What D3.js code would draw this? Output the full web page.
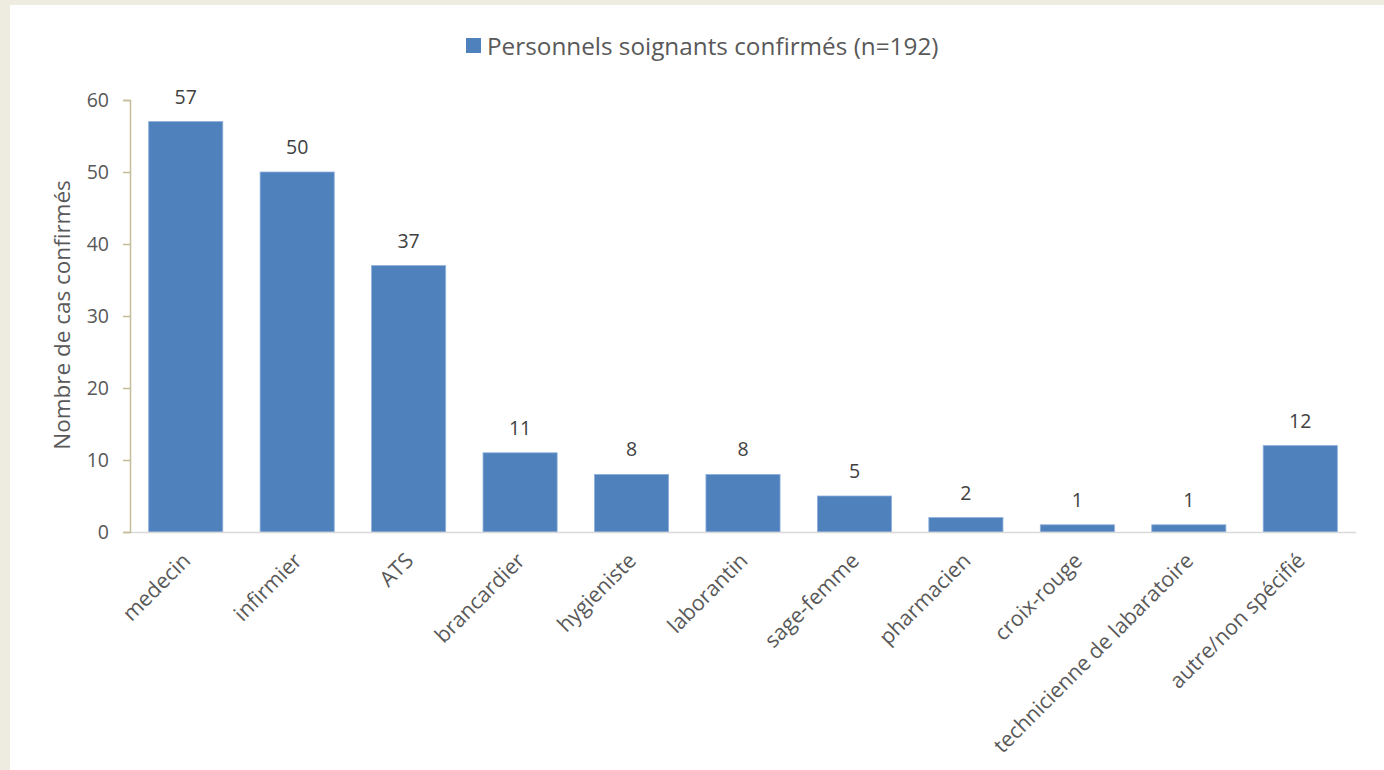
<!DOCTYPE html>
<html>
<head>
<meta charset="utf-8">
<script src="https://cdn.jsdelivr.net/npm/d3@7"></script>
<style>
  html, body { margin: 0; padding: 0; background: #eeebe0; }
  svg { display: block; }
  text { font-family: "Open Sans", sans-serif; }
</style>
</head>
<body>
<script>
var categories = ["medecin", "infirmier", "ATS", "brancardier", "hygieniste", "laborantin",
                  "sage-femme", "pharmacien", "croix-rouge", "technicienne de labaratoire",
                  "autre/non spécifié"];
var values = [57, 50, 37, 11, 8, 8, 5, 2, 1, 1, 12];
var yTicks = [0, 10, 20, 30, 40, 50, 60];
var seriesName = "Personnels soignants confirmés (n=192)";
var yTitle = "Nombre de cas confirmés";

var w = 1384,
    h = 770;

var plotLeft = 130, plotRight = 1356, plotTop = 100, plotBottom = 532;

var svg = d3.select("body")
  .append("svg")
  .attr("width", w)
  .attr("height", h);

// white chart area
svg.append("rect")
  .attr("x", 10)
  .attr("y", 5)
  .attr("width", w - 10)
  .attr("height", h - 5)
  .attr("fill", "#fff");

var xScale = d3.scaleBand()
  .domain(categories)
  .range([plotLeft, plotRight])
  .paddingInner(0.335)
  .paddingOuter(0.1675);

var yScale = d3.scaleLinear()
  .domain([0, 60])
  .range([plotBottom, plotTop]);

// bars
svg.selectAll("rect.bar")
  .data(values)
  .enter()
  .append("rect")
  .attr("class", "bar")
  .attr("x", function(d, i) { return xScale(categories[i]); })
  .attr("y", function(d) { return yScale(d); })
  .attr("width", xScale.bandwidth())
  .attr("height", function(d) { return plotBottom - yScale(d); })
  .attr("fill", "#4f81bd")
  .attr("stroke", "#8eb0db")
  .attr("stroke-width", 0.8);

// value labels
svg.selectAll("text.val")
  .data(values)
  .enter()
  .append("text")
  .attr("class", "val")
  .attr("x", function(d, i) { return xScale(categories[i]) + xScale.bandwidth() / 2; })
  .attr("y", function(d) { return yScale(d) - 18; })
  .attr("text-anchor", "middle")
  .attr("font-size", "19.5px")
  .attr("fill", "#404040")
  .text(function(d) { return d; });

// baseline
svg.append("line")
  .attr("x1", plotLeft)
  .attr("x2", plotRight)
  .attr("y1", plotBottom + 0.5)
  .attr("y2", plotBottom + 0.5)
  .attr("stroke", "#d9d9d9")
  .attr("stroke-width", 1.5);

// y axis
var yAxis = d3.axisLeft(yScale)
  .tickValues(yTicks)
  .tickSize(7)
  .tickPadding(14);

var gy = svg.append("g")
  .attr("transform", "translate(" + plotLeft + ",0)")
  .call(yAxis);
gy.select(".domain").attr("stroke", "#c4bd97").attr("stroke-width", 1.5);
gy.selectAll(".tick line").attr("stroke", "#c4bd97").attr("stroke-width", 1.5);
gy.selectAll(".tick text")
  .attr("font-family", "Open Sans, sans-serif")
  .attr("font-size", "19.5px")
  .attr("fill", "#595959");

// x labels rotated
var xAxis = d3.axisBottom(xScale).tickSize(0).tickPadding(0);
var gx = svg.append("g")
  .attr("transform", "translate(0," + plotBottom + ")")
  .call(xAxis);
gx.select(".domain").remove();
gx.selectAll(".tick text")
  .attr("font-family", "Open Sans, sans-serif")
  .attr("font-size", "21.3px")
  .attr("fill", "#595959")
  .attr("text-anchor", "end")
  .attr("dy", null)
  .attr("y", null)
  .attr("transform", "translate(6,30) rotate(-45)");

// y title
svg.append("text")
  .attr("transform", "translate(70," + ((plotTop + plotBottom) / 2 - 1) + ") rotate(-90)")
  .attr("text-anchor", "middle")
  .attr("font-size", "22.5px")
  .attr("fill", "#595959")
  .text(yTitle);

// legend
svg.append("rect")
  .attr("x", 466)
  .attr("y", 38)
  .attr("width", 15)
  .attr("height", 15)
  .attr("fill", "#4f81bd");
svg.append("text")
  .attr("x", 487)
  .attr("y", 55)
  .attr("font-size", "24.3px")
  .attr("fill", "#595959")
  .text(seriesName);
</script>
</body>
</html>
